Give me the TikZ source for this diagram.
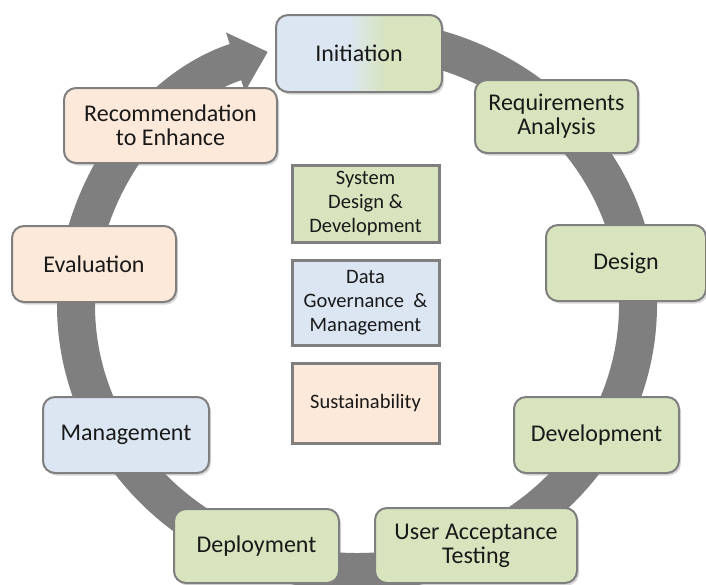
\documentclass[tikz,border=0pt]{standalone}
\usepackage{fontspec}
\setmainfont{Carlito}
\usetikzlibrary{arrows.meta, shadows}

\definecolor{ringgray}{HTML}{7F7F7F}
\definecolor{rimgray}{HTML}{7F7F7F}
\definecolor{phgreen}{HTML}{D7E4BD}
\definecolor{phblue}{HTML}{DCE6F2}
\definecolor{phpeach}{HTML}{FDE9D9}
\pgfdeclarehorizontalshading{initshade}{100bp}{color(0bp)=(phblue); color(47bp)=(phblue); color(58bp)=(phgreen); color(100bp)=(phgreen)}

\begin{document}
\begin{tikzpicture}[x=1pt, y=-1pt,
		phase/.style={draw=rimgray, line width=2pt, rounded corners=12pt, minimum width=165pt, minimum height=76pt, align=center, text=black!90, font=\fontsize{24}{24}\selectfont, drop shadow={shadow xshift=2pt, shadow yshift=-2.5pt, opacity=.3}},
		area/.style={draw=rimgray, line width=3pt, minimum width=147pt, align=center, text=black!90, font=\fontsize{20.5}{24}\selectfont, drop shadow={shadow xshift=1.5pt, shadow yshift=-1.5pt, opacity=.25}}]
		\useasboundingbox (0,0) rectangle (706,584);
		
		%%% Anello
		\draw[ringgray, line width=38pt, -{Triangle[width=60pt, length=34pt]}] (357,305) ++(-88:281 and 267) arc[start angle=-88, end angle=251.5, x radius=281, y radius=267];
		
		%%% Fasi
		\node [phase, shading=initshade, minimum width=166pt, minimum height=77pt] (init) at (359,53.5) {Initiation};
		\node [phase, fill=phgreen, minimum width=163pt, minimum height=73pt] (req) at (556.5,116.5) {Requirements\\Analysis};
		\node [phase, fill=phgreen, minimum width=160pt] (des) at (626,263) {Design};
		\node [phase, fill=phgreen] (dev) at (596.5,435) {Development};
		\node [phase, fill=phgreen, minimum width=202pt, minimum height=75pt] (uat) at (476,545.5) {User Acceptance\\Testing};
		\node [phase, fill=phgreen, minimum height=74pt] (depl) at (256.5,546) {Deployment};
		\node [phase, fill=phblue, minimum width=166pt] (mgmt) at (126,435) {Management};
		\node [phase, fill=phpeach, minimum width=164pt] (eval) at (94,264) {Evaluation};
		\node [phase, fill=phpeach, minimum width=213pt, minimum height=75pt] (reco) at (170.5,125.5) {Recommendation\\to Enhance};
		
		%%% Aree centrali
		\node [area, fill=phgreen, minimum height=77pt] (sysd) at (365.5,203.5) {System\\Design \&\\Development};
		\node [area, fill=phblue, minimum height=85pt] (datag) at (365.5,302.5) {Data\\Governance\ \ \&\\Management};
		\node [area, fill=phpeach, minimum height=80pt] (sust) at (365.5,403) {Sustainability};
	\end{tikzpicture}
\end{document}
